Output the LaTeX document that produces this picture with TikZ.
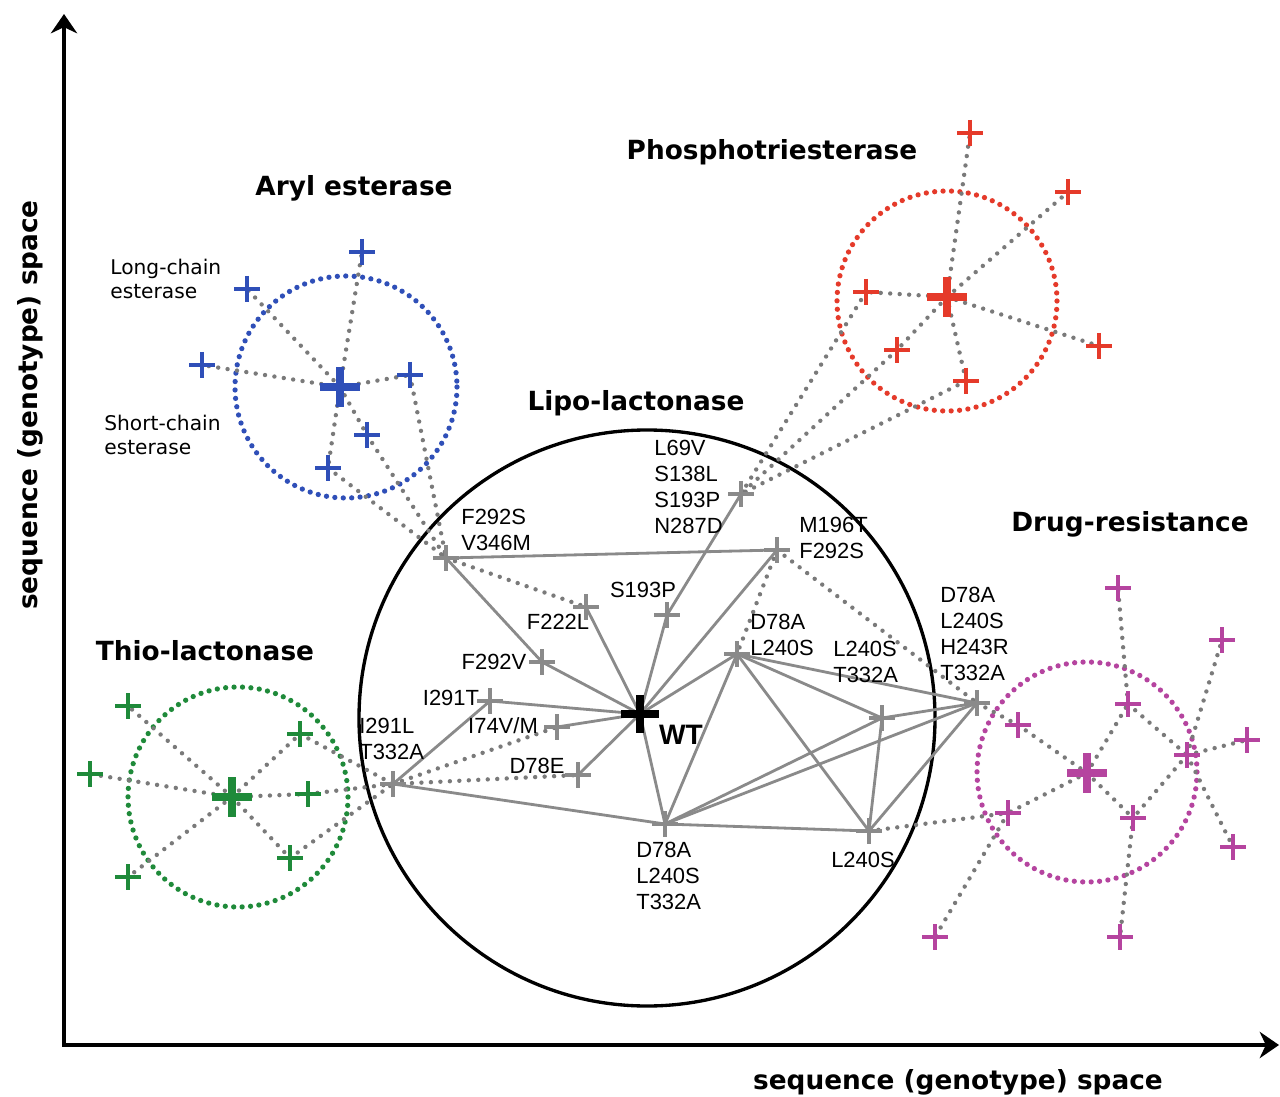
\documentclass[tikz,border=0pt]{standalone}
\usepackage{fontspec}
\setmainfont{Liberation Sans}
\newfontfamily\dvs{DejaVu Sans}
\usetikzlibrary{arrows.meta}
\definecolor{cblue}{HTML}{2F4FB8}
\definecolor{cred}{HTML}{E53A2A}
\definecolor{cgreen}{HTML}{1F8A3A}
\definecolor{cmag}{HTML}{B5449F}
\definecolor{cgray}{HTML}{8A8A8A}
\definecolor{cdot}{HTML}{7A7A7A}
\tikzset{
 solidg/.style={draw=cgray, line width=1.6pt},
 dotg/.style={draw=cdot, line width=2.5pt, line cap=round, dash pattern=on 0pt off 5.4pt},
 ring/.style={line width=3pt, line cap=round, dash pattern=on 0pt off 4.8pt},
 mut/.style={font=\fontsize{12.5}{14.7}\selectfont, inner sep=0pt},
 ttl/.style={font=\dvs\bfseries\fontsize{15}{18}\selectfont, inner sep=0pt},
 sml/.style={font=\dvs\fontsize{11.5}{14}\selectfont, inner sep=0pt, align=left, anchor=west},
 pics/pl/.style n args={3}{code={\draw[#1, line width=#3, line cap=butt] (-#2,0) -- (#2,0) (0,-#2) -- (0,#2);}},
 axis/.style={line width=2.3pt, -{Stealth[length=11pt, width=15pt, inset=3.5pt]}},
}
\begin{document}
\begin{tikzpicture}[x=0.02cm, y=-0.02cm]
\useasboundingbox[fill=white] (0,0) rectangle (1280,1097);
% axes
\coordinate (o) at (64,1045);
\coordinate (ytip) at (64,14);
\coordinate (xtip) at (1279,1045);
\draw[axis] ([yshift=-1.1pt]o) -- (ytip);
\draw[axis] ([xshift=-1.1pt]o) -- (xtip);
\node[ttl, rotate=90] (ylab) at (30,405) {sequence (genotype) space};
\node[ttl] (xlab) at (958,1082) {sequence (genotype) space};
% main circle
\coordinate (mcent) at (647,718);
\draw[line width=1.9pt] (mcent) circle [radius=288];
% coordinates of network
\coordinate (wt) at (640,714);
\coordinate (fvs) at (446,558);
\coordinate (fl) at (586,607);
\coordinate (fv) at (542,662);
\coordinate (it) at (490,701);
\coordinate (iv) at (557,727);
\coordinate (de) at (578,775);
\coordinate (il) at (393,784);
\coordinate (sp) at (667,615);
\coordinate (lq) at (741,494);
\coordinate (mf) at (777,550);
\coordinate (dl) at (737,654);
\coordinate (lt) at (882,718);
\coordinate (dh) at (977,703);
\coordinate (dt) at (665,824);
\coordinate (ls) at (869,831);
% blue
\coordinate (bc) at (340,387);
\coordinate (b1) at (362,252);
\coordinate (b2) at (247,289);
\coordinate (b3) at (202,365);
\coordinate (b4) at (410,375);
\coordinate (b5) at (367,435);
\coordinate (b6) at (328,468);
% red
\coordinate (rc) at (947,297);
\coordinate (r1) at (970,133);
\coordinate (r2) at (1068,192);
\coordinate (r3) at (866,292);
\coordinate (r4) at (1099,346);
\coordinate (r5) at (897,350);
\coordinate (r6) at (966,381);
% green
\coordinate (gc) at (232,797);
\coordinate (g1) at (128,706);
\coordinate (g2) at (90,774);
\coordinate (g3) at (128,877);
\coordinate (g4) at (300,734);
\coordinate (g5) at (308,794);
\coordinate (g6) at (290,858);
% magenta
\coordinate (mc) at (1087,773);
\coordinate (m1) at (1018,725);
\coordinate (m2) at (1128,704);
\coordinate (m3) at (1118,588);
\coordinate (m4) at (1187,755);
\coordinate (m5) at (1222,640);
\coordinate (m6) at (1247,740);
\coordinate (m7) at (1233,847);
\coordinate (m8) at (1133,818);
\coordinate (m9) at (1120,937);
\coordinate (m10) at (1008,813);
\coordinate (m11) at (935,937);
% rings
\draw[ring, cblue] (346,387) circle [radius=111];
\draw[ring, cred] (947,301) circle [radius=110];
\draw[ring, cgreen] (238,797) circle [radius=110];
\draw[ring, cmag] (1087,772) circle [radius=110];
% dotted connectors
\foreach \p in {b1,b2,b3,b4,b5,b6} \draw[dotg] (bc) -- (\p);
\foreach \p in {b4,b5,b6} \draw[dotg] (\p) -- (fvs);
\foreach \p in {r1,r2,r3,r4,r5,r6} \draw[dotg] (rc) -- (\p);
\foreach \p in {r3,r5,r6} \draw[dotg] (\p) -- (lq);
\foreach \p in {g1,g2,g3,g4,g5,g6} \draw[dotg] (gc) -- (\p);
\foreach \p in {g4,g5,g6} \draw[dotg] (\p) -- (il);
\draw[dotg] (dh) -- (m1);
\draw[dotg] (m1) -- (mc);
\draw[dotg] (mc) -- (m8);
\draw[dotg] (mc) -- (m2);
\draw[dotg] (m2) -- (m3);
\draw[dotg] (m2) -- (m4);
\draw[dotg] (m4) -- (m5);
\draw[dotg] (m4) -- (m6);
\draw[dotg] (m4) -- (m7);
\draw[dotg] (m4) -- (m8);
\draw[dotg] (m8) -- (m9);
\draw[dotg] (mc) -- (m10);
\draw[dotg] (m10) -- (m11);
\draw[dotg] (ls) -- (m10);
\draw[dotg] (fvs) -- (fl);
\draw[dotg] (mf) -- (dl);
\draw[dotg] (mf) -- (dh);
\draw[dotg] (il) -- (iv);
\draw[dotg] (il) -- (de);
% solid connectors
\foreach \a/\b in {fvs/fv, fv/wt, fvs/mf, fl/wt, sp/wt, sp/lq, mf/wt, dl/wt, dl/dt, dl/lt, dl/dh, dl/ls, wt/dt, dt/lt, dt/dh, dt/ls, dt/il, lt/dh, lt/ls, ls/dh, wt/it, it/il, wt/iv, wt/de}
  \draw[solidg] (\a) -- (\b);
% gray pluses
\foreach \p in {fvs,fl,fv,it,iv,de,il,sp,lq,mf,dl,lt,dh,dt,ls}
  \pic at (\p) {pl={cgray}{13}{1.8pt}};
\pic at (wt) {pl={black}{19}{4.3pt}};
% coloured pluses
\foreach \p in {b1,b2,b3,b4,b5,b6} \pic at (\p) {pl={cblue}{13}{2.4pt}};
\pic at (bc) {pl={cblue}{20}{4.5pt}};
\foreach \p in {r1,r2,r3,r4,r5,r6} \pic at (\p) {pl={cred}{13}{2.4pt}};
\pic at (rc) {pl={cred}{20}{4.5pt}};
\foreach \p in {g1,g2,g3,g4,g5,g6} \pic at (\p) {pl={cgreen}{13}{2.4pt}};
\pic at (gc) {pl={cgreen}{20}{4.5pt}};
\foreach \p in {m1,m2,m3,m4,m5,m6,m7,m8,m9,m10,m11} \pic at (\p) {pl={cmag}{13}{2.4pt}};
\pic at (mc) {pl={cmag}{20}{4.5pt}};
% titles
\node[ttl] (tlipo) at (636,403) {Lipo-lactonase};
\node[ttl] (taryl) at (354,188) {Aryl esterase};
\node[ttl] (tphos) at (772,152) {Phosphotriesterase};
\node[ttl] (tdrug) at (1130,524) {Drug-resistance};
\node[ttl] (tthio) at (205,651) {Thio-lactonase};
\node[sml] (tlong) at (110,279) {Long-chain\\esterase};
\node[sml] (tshort) at (104,435) {Short-chain\\esterase};
% mutation labels
\node[mut, align=left, anchor=west] (lfvs) at (461,530) {F292S\\V346M};
\node[mut] (lfl) at (558,622) {F222L};
\node[mut] (lfv) at (494,662) {F292V};
\node[mut] (lit) at (451,698) {I291T};
\node[mut] (liv) at (503,726) {I74V/M};
\node[mut] (lde) at (537,766) {D78E};
\node[mut, align=left, anchor=west] (lil) at (359,739) {I291L\\T332A};
\node[mut] (lsp) at (643,590) {S193P};
\node[mut, align=left, anchor=west] (llq) at (654,487) {L69V\\S138L\\S193P\\N287D};
\node[mut, align=left, anchor=west] (lmf) at (799,538) {M196T\\F292S};
\node[mut, align=left, anchor=west] (ldl) at (750,635) {D78A\\L240S};
\node[mut, align=left, anchor=west] (llt) at (833,662) {L240S\\T332A};
\node[mut, align=left, anchor=west] (ldh) at (940,634) {D78A\\L240S\\H243R\\T332A};
\node[mut, align=left, anchor=west] (ldt) at (636,876) {D78A\\L240S\\T332A};
\node[mut] (lls) at (863,860) {L240S};
\node[font=\bfseries\fontsize{16}{18}\selectfont, inner sep=0pt] (lwt) at (681,735) {WT};
\end{tikzpicture}
\end{document}
